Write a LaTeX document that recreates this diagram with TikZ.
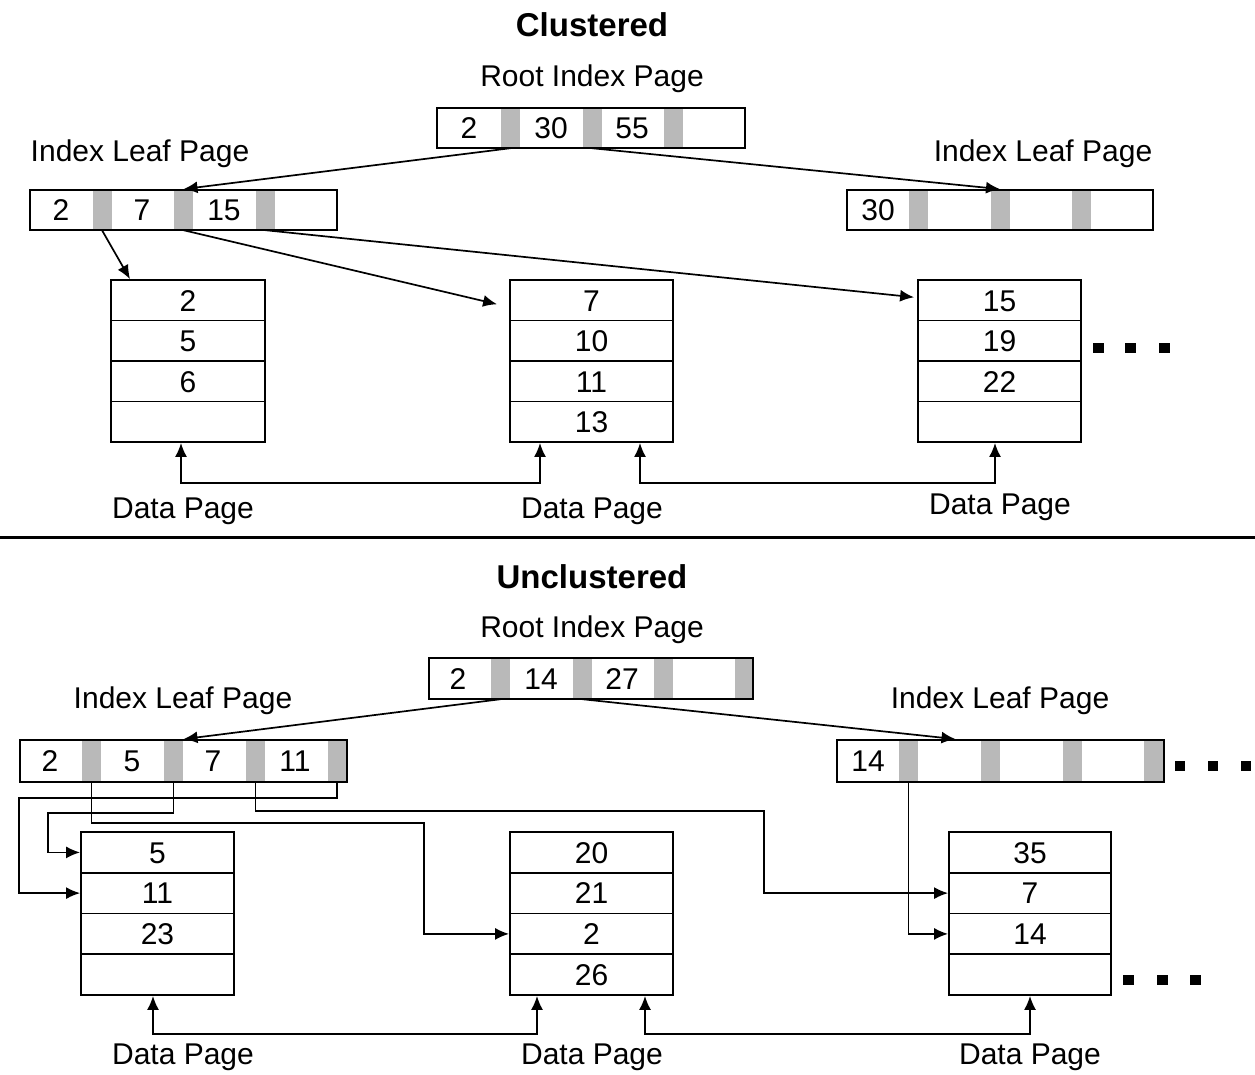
\documentclass[tikz,border=0pt]{standalone}
\usepackage{fontspec}
\setmainfont{Liberation Sans}
\usetikzlibrary{arrows.meta,calc}
\begin{document}
\begin{tikzpicture}[x=1pt,y=-1pt,
  txt/.style={inner sep=0pt, font=\fontsize{30}{36}\selectfont, text height=21.5pt, text depth=0pt},
  ttl/.style={inner sep=0pt, font=\fontsize{33}{40}\selectfont\bfseries, text height=23.6pt, text depth=0pt},
  box/.style={draw, line width=1.8pt, inner sep=0pt, rectangle},
  bar/.style={fill=gray!55, draw=none, inner sep=0pt, minimum width=19pt},
  row/.style={box, font=\fontsize{30}{36}\selectfont, text height=21.5pt, text depth=0pt},
  arr/.style={line width=1.7pt, -{Latex[length=14pt,width=12pt]}},
  darr/.style={line width=1.7pt, {Latex[length=14pt,width=12pt]}-{Latex[length=14pt,width=12pt]}},
]
\useasboundingbox[fill=white] (0,0) rectangle (1255,1074);

%================ CLUSTERED =================
\node[ttl] (t1) at (592,25) {Clustered};
\node[txt] (rl1) at (592,76) {Root Index Page};
\node[txt] (ll1) at (140,151) {Index Leaf Page};
\node[txt] (lr1) at (1043,151) {Index Leaf Page};

% root page
\node[bar, minimum height=40pt] (crb1) at (510.5,128) {};
\node[bar, minimum height=40pt] (crb2) at (592,128) {};
\node[bar, minimum height=40pt] (crb3) at (673,128) {};
\node[box, minimum width=308pt, minimum height=40pt] (croot) at (591,128) {};
\node[txt] at (469,128) {2};
\node[txt] at (551,128) {30};
\node[txt] at (632,128) {55};

% left leaf
\node[bar, minimum height=40pt] (clb1) at (102,210) {};
\node[bar, minimum height=40pt] (clb2) at (183.5,210) {};
\node[bar, minimum height=40pt] (clb3) at (265.5,210) {};
\node[box, minimum width=307pt, minimum height=40pt] (cleaf1) at (183.5,210) {};
\node[txt] at (61,210) {2};
\node[txt] at (142,210) {7};
\node[txt] at (224,210) {15};

% right leaf
\node[bar, minimum height=40pt] (crl1) at (918.5,210) {};
\node[bar, minimum height=40pt] (crl2) at (1000,210) {};
\node[bar, minimum height=40pt] (crl3) at (1081.5,210) {};
\node[box, minimum width=306pt, minimum height=40pt] (cleaf2) at (1000,210) {};
\node[txt] at (878,210) {30};

% data pages
\node[row, minimum width=154pt, minimum height=40.5pt] (a1) at (188,300.25) {2};
\node[row, minimum width=154pt, minimum height=40.5pt] (a2) at (188,340.75) {5};
\node[row, minimum width=154pt, minimum height=40.5pt] (a3) at (188,381.25) {6};
\node[row, minimum width=154pt, minimum height=40.5pt] (a4) at (188,421.75) {};

\node[row, minimum width=163pt, minimum height=40.5pt] (b1) at (591.5,300.25) {7};
\node[row, minimum width=163pt, minimum height=40.5pt] (b2) at (591.5,340.75) {10};
\node[row, minimum width=163pt, minimum height=40.5pt] (b3) at (591.5,381.25) {11};
\node[row, minimum width=163pt, minimum height=40.5pt] (b4) at (591.5,421.75) {13};

\node[row, minimum width=163pt, minimum height=40.5pt] (c1) at (999.5,300.25) {15};
\node[row, minimum width=163pt, minimum height=40.5pt] (c2) at (999.5,340.75) {19};
\node[row, minimum width=163pt, minimum height=40.5pt] (c3) at (999.5,381.25) {22};
\node[row, minimum width=163pt, minimum height=40.5pt] (c4) at (999.5,421.75) {};

\fill (1093,343) rectangle ++(11,10);
\fill (1125,343) rectangle ++(11,10);
\fill (1159,343) rectangle ++(11,10);

% connectors
\draw[arr] (crb1.south) -- (cleaf1.north);
\draw[arr] (crb2.south) -- (cleaf2.north);
\draw[arr] (clb1.south) -- ([xshift=-58pt]a1.north);
\draw[arr] (clb2.south) -- ([xshift=-12pt,yshift=-4pt]b1.west);
\draw[arr] (clb3.south) -- ([xshift=-3pt,yshift=3pt]c1.west);

\draw[darr] ([xshift=-7pt]a4.south) -- ++(0,40) -| ([xshift=-51.5pt]b4.south);
\draw[darr] ([xshift=48.5pt]b4.south) -- ++(0,40) -| ([xshift=-4.5pt]c4.south);

\node[txt] (d1) at (183,508) {Data Page};
\node[txt] (d2) at (592,508) {Data Page};
\node[txt] (d3) at (1000,504) {Data Page};

% separator
\draw[line width=3pt] (0,537) -- (1255,537);

%================ UNCLUSTERED =================
\node[ttl] (t2) at (592,577) {Unclustered};
\node[txt] (rl2) at (592,627) {Root Index Page};
\node[txt] (ll2) at (183,698) {Index Leaf Page};
\node[txt] (lr2) at (1000,698) {Index Leaf Page};

% root page
\node[bar, minimum height=41pt] (urb1) at (500.5,678.5) {};
\node[bar, minimum height=41pt] (urb2) at (582.5,678.5) {};
\node[bar, minimum height=41pt] (urb3) at (663,678.5) {};
\node[bar, minimum height=41pt, minimum width=18pt] (urb4) at (744,678.5) {};
\node[box, minimum width=324pt, minimum height=41pt] (uroot) at (591,678.5) {};
\node[txt] at (458,678.5) {2};
\node[txt] at (541,678.5) {14};
\node[txt] at (622,678.5) {27};

% left leaf
\node[bar, minimum height=42pt] (ub1) at (91.5,761) {};
\node[bar, minimum height=42pt] (ub2) at (173.5,761) {};
\node[bar, minimum height=42pt] (ub3) at (255.5,761) {};
\node[bar, minimum height=42pt] (ub4) at (337,761) {};
\node[box, minimum width=327pt, minimum height=42pt] (uleaf1) at (183.5,761) {};
\node[txt] at (50,761) {2};
\node[txt] at (132,761) {5};
\node[txt] at (213,761) {7};
\node[txt] at (295,761) {11};

% right leaf
\node[bar, minimum height=42pt] (rb1) at (908.5,761) {};
\node[bar, minimum height=42pt] (rb2) at (990.5,761) {};
\node[bar, minimum height=42pt] (rb3) at (1072,761) {};
\node[bar, minimum height=42pt] (rb4) at (1153,761) {};
\node[box, minimum width=327pt, minimum height=42pt] (uleaf2) at (1000.5,761) {};
\node[txt] at (868,761) {14};

\fill (1175,761) rectangle ++(10,10);
\fill (1208,761) rectangle ++(10,10);
\fill (1241,761) rectangle ++(10,10);

% data pages
\node[row, minimum width=153pt, minimum height=40.75pt] (p1) at (157.5,852.4) {5};
\node[row, minimum width=153pt, minimum height=40.75pt] (p2) at (157.5,893.1) {11};
\node[row, minimum width=153pt, minimum height=40.75pt] (p3) at (157.5,933.9) {23};
\node[row, minimum width=153pt, minimum height=40.75pt] (p4) at (157.5,974.6) {};

\node[row, minimum width=163pt, minimum height=40.75pt] (q1) at (591.5,852.4) {20};
\node[row, minimum width=163pt, minimum height=40.75pt] (q2) at (591.5,893.1) {21};
\node[row, minimum width=163pt, minimum height=40.75pt] (q3) at (591.5,933.9) {2};
\node[row, minimum width=163pt, minimum height=40.75pt] (q4) at (591.5,974.6) {26};

\node[row, minimum width=162pt, minimum height=40.75pt] (s1) at (1030,852.4) {35};
\node[row, minimum width=162pt, minimum height=40.75pt] (s2) at (1030,893.1) {7};
\node[row, minimum width=162pt, minimum height=40.75pt] (s3) at (1030,933.9) {14};
\node[row, minimum width=162pt, minimum height=40.75pt] (s4) at (1030,974.6) {};

\fill (1123,975) rectangle ++(11,10);
\fill (1157,975) rectangle ++(11,10);
\fill (1190,975) rectangle ++(11,10);

% connectors
\draw[arr] (urb1.south) -- (uleaf1.north);
\draw[arr] (urb2.south) -- ([xshift=-45pt]uleaf2.north);

\draw[arr] (ub1.south) -- ++(0,41) -| ($(q3.west)+(-85,0)$) -- (q3.west);
\draw[arr] (ub2.south) -- ++(0,31) -| ($(p1.west)+(-32,0)$) -- (p1.west);
\draw[arr] (ub3.south) -- ++(0,29) -| ($(s2.west)+(-184,0)$) -- (s2.west);
\draw[arr] (ub4.south) -- ++(0,16) -| ($(p2.west)+(-61,0)$) -- (p2.west);
\draw[arr] (rb1.south) |- (s3.west);

\draw[darr] ([xshift=-4.5pt]p4.south) -- ++(0,38) -| ([xshift=-54.5pt]q4.south);
\draw[darr] ([xshift=53.5pt]q4.south) -- ++(0,38) -| (s4.south);

\node[txt] (e1) at (183,1054) {Data Page};
\node[txt] (e2) at (592,1054) {Data Page};
\node[txt] (e3) at (1030,1054) {Data Page};
\end{tikzpicture}
\end{document}
